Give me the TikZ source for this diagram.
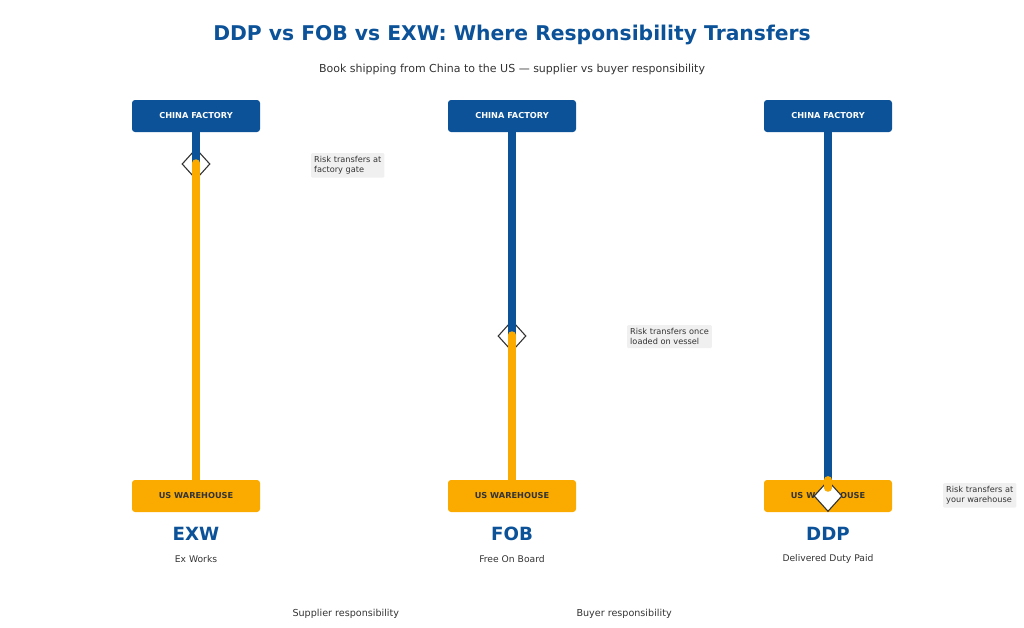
\documentclass[tikz,border=0pt]{standalone}
\usepackage{fontspec}
\setmainfont{DejaVu Sans}
\usetikzlibrary{shapes.geometric}
\definecolor{tblue}{HTML}{0B5298}
\definecolor{torange}{HTML}{FBAA00}
\definecolor{tgray}{HTML}{333333}
\definecolor{lgray}{HTML}{F0F0F0}
\begin{document}
\begin{tikzpicture}[x=1pt,y=-1pt,
  top/.style={fill=tblue,rounded corners=3pt,minimum width=128pt,minimum height=32pt,inner sep=0pt,text=white,font=\fontsize{8.2}{10}\selectfont\bfseries},
  bot/.style={fill=torange,rounded corners=3pt,minimum width=128pt,minimum height=32pt,inner sep=0pt,text=tgray,font=\fontsize{8.2}{10}\selectfont\bfseries},
  bl/.style={draw=tblue,line width=7.5pt},
  ol/.style={draw=torange,line width=7.5pt},
  dia/.style={diamond,draw=tgray,line width=1.1pt,minimum width=28pt,minimum height=31pt,inner sep=0pt},
  note/.style={fill=lgray,rounded corners=1pt,align=left,inner sep=3pt,text=tgray,font=\fontsize{8.2}{10.5}\selectfont},
  term/.style={text=tblue,font=\fontsize{18.2}{22}\selectfont\bfseries},
  sub/.style={text=tgray,font=\fontsize{9.2}{11}\selectfont},
]
\useasboundingbox (0,0) rectangle (1024,627);
\node[text=tblue,font=\fontsize{20.3}{24}\selectfont\bfseries] (title) at (512,35) {DDP vs FOB vs EXW: Where Responsibility Transfers};
\node[text=tgray,font=\fontsize{11}{13}\selectfont] (subtitle) at (512,69) {Book shipping from China to the US — supplier vs buyer responsibility};

% EXW
\node[dia] (ed) at (196,164) {};
\node[top] (et) at (196,116) {CHINA FACTORY};
\node[bot] (eb) at (196,496) {US WAREHOUSE};
\draw[bl] (et.south) -- (ed.center);
\draw[ol,line cap=round] ([yshift=1pt]ed.center) -- (eb.north);
\node[note,anchor=north west] (en) at (311,153) {Risk transfers at\\factory gate};
\node[term] (ename) at (196,534) {EXW};
\node[sub] (edesc) at (196,559) {Ex Works};

% FOB
\node[dia] (fd) at (512,336) {};
\node[top] (ft) at (512,116) {CHINA FACTORY};
\node[bot] (fb) at (512,496) {US WAREHOUSE};
\draw[bl] (ft.south) -- (fd.center);
\draw[ol,line cap=round] ([yshift=1pt]fd.center) -- (fb.north);
\node[note,anchor=north west] (fn) at (627,325) {Risk transfers once\\loaded on vessel};
\node[term] (fname) at (512,534) {FOB};
\node[sub] (fdesc) at (512,559) {Free On Board};

% DDP
\node[top] (dt) at (828,116) {CHINA FACTORY};
\node[bot] (db) at (828,496) {US WAREHOUSE};
\draw[bl] (dt.south) -- (db.north);
\node[dia,fill=white] (dd) at (828,496) {};
\draw[ol,line cap=round] (db.north) -- ([yshift=8pt]dd.center);
\node[note,anchor=north west] (dn) at (943,483) {Risk transfers at\\your warehouse};
\node[term] (dname) at (828,534) {DDP};
\node[sub] (ddesc) at (828,559) {Delivered Duty Paid};

% legend
\node[sub,anchor=west,font=\fontsize{9.6}{11}\selectfont] (l1) at (289,614) {Supplier responsibility};
\node[sub,anchor=west,font=\fontsize{9.6}{11}\selectfont] (l2) at (573,614) {Buyer responsibility};
\end{tikzpicture}
\end{document}
